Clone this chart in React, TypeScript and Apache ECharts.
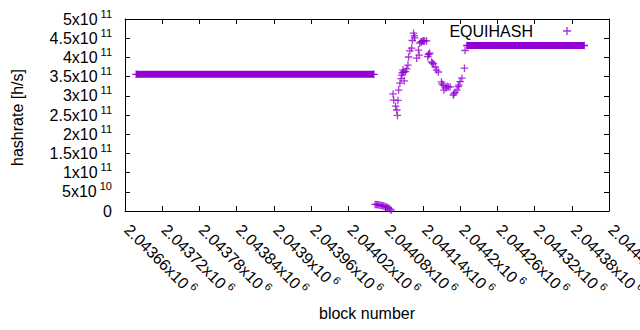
import React, { useEffect, useRef } from 'react';
import * as echarts from 'echarts';

// ---- data ----
const xTickMin = 2043660;
const xTickMax = 2044440;
const xTickStep = 60;
const yTickMax = 5e11;
const yTickStep = 5e10;

const seriesName = 'EQUIHASH';

// long flat stretch before the drop (first and last block of the run)
const flatLowBlocks = [2043678, 2044061];
const flatLowValues = [3.56e11, 3.56e11];

// short run of near-zero readings
const dropBlocks = [2044063, 2044065, 2044067, 2044069, 2044071, 2044073, 2044075, 2044077, 2044079, 2044081, 2044083, 2044085, 2044087, 2044089];
const dropValues = [1.7e10, 1.7e10, 1.65e10, 1.6e10, 1.5e10, 1.45e10, 1.35e10, 1.3e10, 1.2e10, 1.05e10, 9e9, 7e9, 5e9, 2e9];

// volatile swing section
const swingBlocks = [
  2044092, 2044093, 2044096, 2044098, 2044099, 2044100, 2044101, 2044103, 2044105, 2044106,
  2044107, 2044108, 2044109, 2044110, 2044112, 2044114, 2044116, 2044117, 2044119, 2044122,
  2044123, 2044125, 2044126, 2044127, 2044130, 2044133, 2044134, 2044135, 2044137, 2044138,
  2044140, 2044141, 2044143, 2044146, 2044148, 2044149, 2044150, 2044151, 2044154, 2044156,
  2044157, 2044160, 2044162, 2044165, 2044170, 2044171, 2044173, 2044174, 2044177, 2044179,
  2044181, 2044184, 2044189, 2044190, 2044192, 2044195, 2044197, 2044198, 2044200, 2044203,
  2044207, 2044208,
];
const swingValues = [
  3.05e11, 2.89e11, 2.73e11, 2.63e11, 2.49e11, 2.88e11, 3.15e11, 3.33e11, 3.45e11, 3.54e11,
  3.60e11, 3.67e11, 3.62e11, 3.39e11, 3.63e11, 3.70e11, 3.80e11, 4.01e11, 4.17e11, 4.24e11,
  4.44e11, 4.63e11, 4.56e11, 4.51e11, 3.98e11, 4.19e11, 4.06e11, 4.37e11, 4.40e11, 4.41e11,
  4.43e11, 4.43e11, 4.43e11, 4.43e11, 4.02e11, 4.07e11, 4.09e11, 4.11e11, 3.88e11, 3.85e11,
  3.83e11, 3.75e11, 3.67e11, 3.62e11, 3.36e11, 3.31e11, 3.27e11, 3.15e11, 3.20e11, 3.25e11,
  3.23e11, 3.23e11, 3.02e11, 3.05e11, 3.09e11, 3.15e11, 3.24e11, 3.28e11, 3.37e11, 3.46e11,
  3.72e11, 4.18e11,
];

// long flat stretch after the recovery
const flatHighBlocks = [2044211, 2044400];
const flatHighValues = [4.31e11, 4.31e11];

// ---- styling ----
const COLOR = '#9400d3';
const FONT = "'Liberation Sans', Arial, sans-serif";
const CROSS = 'path://M0,2.9H2.9V0H4.1V2.9H7V4.1H4.1V7H2.9V4.1H0Z';

const supStyle = { fontSize: 11, lineHeight: 11, verticalAlign: 'top', color: '#000', fontFamily: FONT, padding: [0, 0, 0, 3] };
const richY = {
  b: { fontSize: 16, lineHeight: 22, color: '#000', fontFamily: FONT },
  s: supStyle,
};
const richX = {
  b: { fontSize: 16, lineHeight: 22, color: '#000', fontFamily: FONT, padding: [0, 0, 0, 3] },
  s: supStyle,
};

function fmtY(v: number): string {
  if (v === 0) return '0';
  const e = Math.floor(Math.log10(v) + 1e-9);
  const m = parseFloat((v / Math.pow(10, e)).toFixed(3));
  return `{b|${m}x10}{s|${e}}`;
}
function fmtX(v: number): string {
  const m = parseFloat((v / 1e6).toFixed(5));
  return `{b|${m}x10}{s|6}`;
}

const zip = (a: number[], b: number[]) => a.map((x, i) => [x, b[i]]);

export default function App() {
  const ref = useRef<HTMLDivElement>(null);
  useEffect(() => {
    if (!ref.current) return;
    const chart = echarts.init(ref.current, null, { renderer: 'svg' });
    const axisLine = { show: true, onZero: false, lineStyle: { color: '#000', width: 1 } };
    const axisTick = { show: true, inside: true, length: 5, lineStyle: { color: '#000', width: 1 } };
    chart.setOption({
      animation: false,
      backgroundColor: '#fff',
      textStyle: { fontFamily: FONT },
      grid: { left: 125, right: 31, top: 19, bottom: 119, containLabel: false, outerBoundsMode: 'none' },
      legend: {
        data: [{ name: seriesName, icon: CROSS }],
        right: 64,
        top: 18,
        align: 'right',
        itemWidth: 8,
        itemHeight: 8,
        selectedMode: false,
        itemStyle: { color: COLOR },
        textStyle: { fontSize: 16, color: '#000', fontFamily: FONT, padding: [0, 25, 0, 0] },
      },
      xAxis: [
        {
          type: 'value', position: 'bottom', min: xTickMin, max: xTickMax, interval: xTickStep,
          axisLine, axisTick, splitLine: { show: false },
          axisLabel: {
            rotate: -45, margin: 14, formatter: fmtX, rich: richX, fontSize: 16, color: '#000',
            showMinLabel: true, showMaxLabel: true, hideOverlap: false,
          },
          name: 'block number', nameLocation: 'middle', nameGap: 94, nameMoveOverlap: false,
          nameTextStyle: { fontSize: 16, color: '#000', fontFamily: FONT },
        },
        {
          type: 'value', position: 'top', min: xTickMin, max: xTickMax, interval: xTickStep,
          axisLine, axisTick, splitLine: { show: false }, axisLabel: { show: false },
        },
      ],
      yAxis: [
        {
          type: 'value', position: 'left', min: 0, max: yTickMax, interval: yTickStep,
          axisLine, axisTick, splitLine: { show: false },
          axisLabel: { margin: 13, formatter: fmtY, rich: richY, fontSize: 16, color: '#000' },
          name: 'hashrate [h/s]', nameLocation: 'middle', nameGap: 100, nameMoveOverlap: false,
          nameTextStyle: { fontSize: 16, color: '#000', fontFamily: FONT, padding: [0, 5, 0, 0] },
        },
        {
          type: 'value', position: 'right', min: 0, max: yTickMax, interval: yTickStep,
          axisLine, axisTick, splitLine: { show: false }, axisLabel: { show: false },
        },
      ],
      series: [
        {
          name: seriesName, type: 'scatter', symbol: CROSS, symbolSize: 7.5,
          itemStyle: { color: COLOR },
          data: [...zip(dropBlocks, dropValues), ...zip(swingBlocks, swingValues)],
          z: 3,
        },
        {
          name: seriesName, type: 'line', symbol: CROSS, symbolSize: 7.5, showSymbol: true,
          itemStyle: { color: COLOR }, lineStyle: { color: COLOR, width: 7, cap: 'butt' },
          data: zip(flatLowBlocks, flatLowValues), z: 2,
        },
        {
          name: seriesName, type: 'line', symbol: CROSS, symbolSize: 7.5, showSymbol: true,
          itemStyle: { color: COLOR }, lineStyle: { color: COLOR, width: 7, cap: 'butt' },
          data: zip(flatHighBlocks, flatHighValues), z: 2,
        },
      ],
    });
    return () => chart.dispose();
  }, []);
  return (
    <div
      ref={ref}
      style={{ position: 'fixed', left: 0, top: 0, width: 640, height: 330, background: '#fff' }}
    />
  );
}
